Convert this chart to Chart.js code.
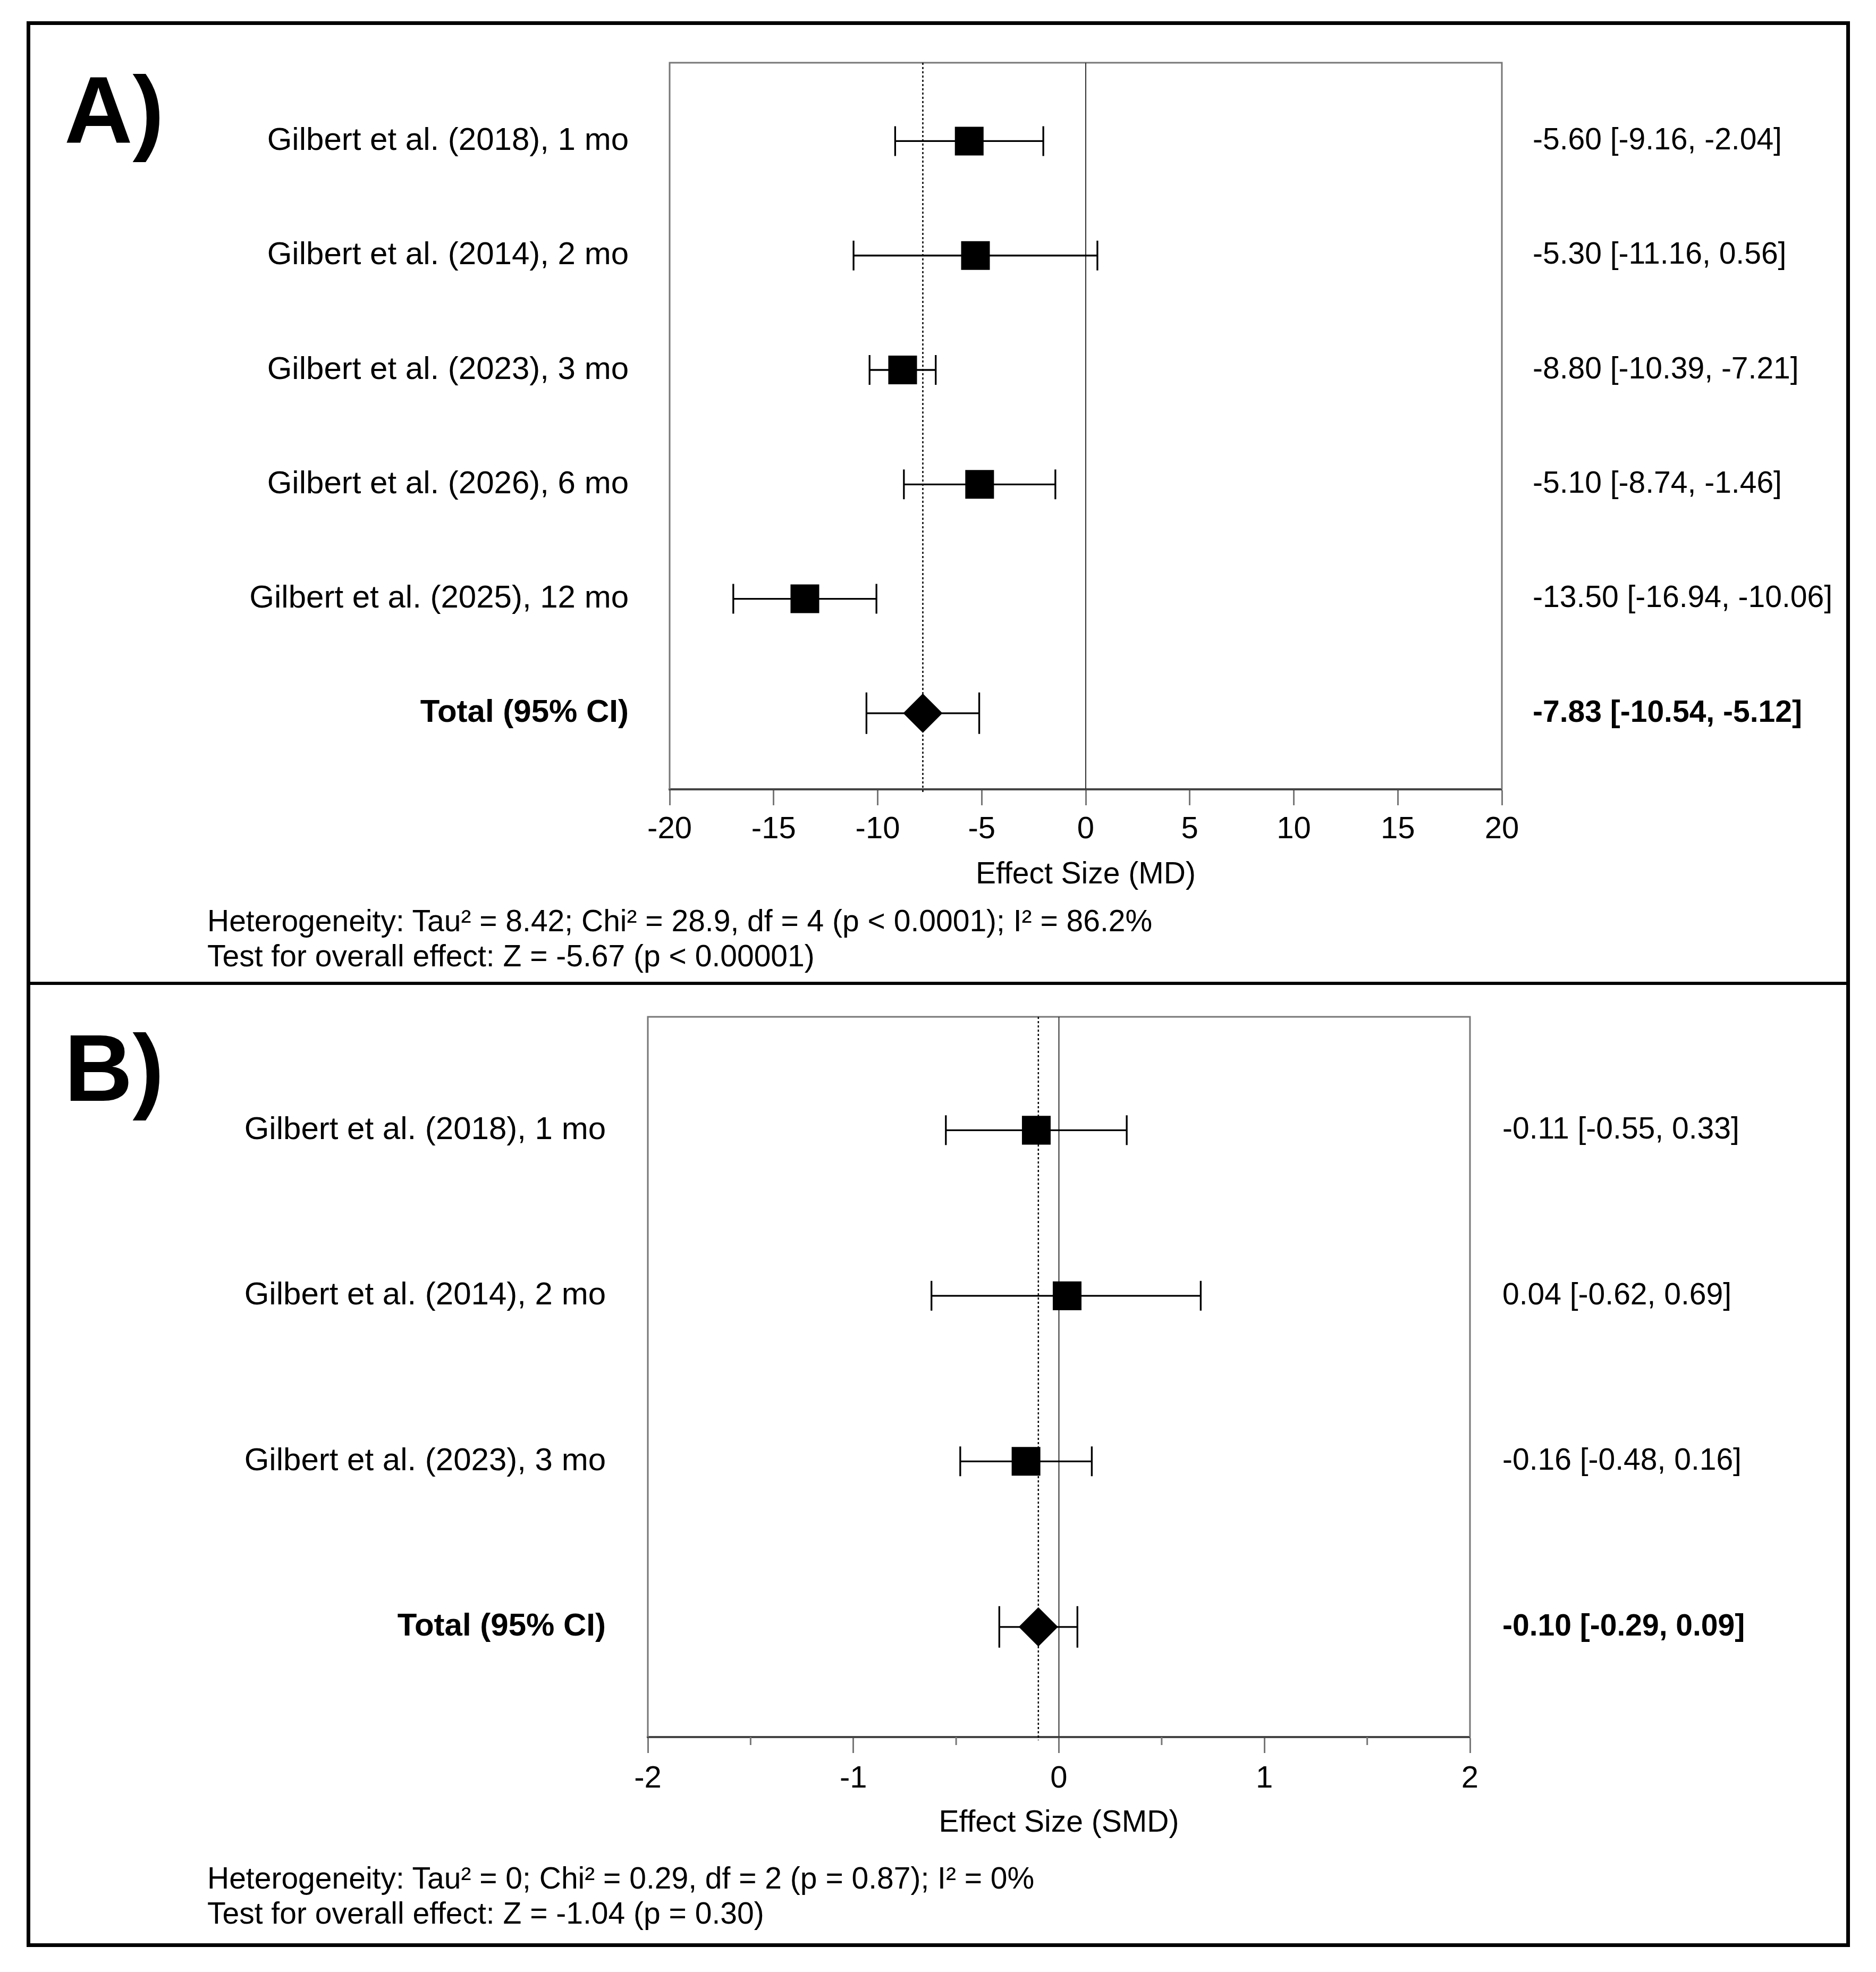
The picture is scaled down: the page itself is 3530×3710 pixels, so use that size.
<!DOCTYPE html>
<html lang="en">
<head>
<meta charset="UTF-8" />
<title>Forest plots</title>
<script src="https://cdn.jsdelivr.net/npm/chart.js@4.4.1/dist/chart.umd.min.js"></script>
<style>
  body { margin: 0; width: 3530px; height: 3710px; background: #fff; position: relative; overflow: hidden;
         font-family: "Liberation Sans", Arial, sans-serif; color: #000; }
  canvas { position: absolute; left: 0; }
  #chartA { top: 0; }
  #chartB { top: 1848px; }
  .frame { position: absolute; left: 50px; top: 40px; width: 3431px; height: 3623px; border: 7px solid #000; box-sizing: border-box; }
  .divider { position: absolute; left: 50px; top: 1847px; width: 3431px; height: 6px; background: #000; }
  .panel-tag { position: absolute; left: 121px; font-weight: bold; font-size: 178px; line-height: 178px; }
  .stats { position: absolute; left: 390px; font-size: 57px; line-height: 66px; white-space: nowrap; }
</style>
</head>
<body>
  <canvas id="chartA" width="3530" height="1848"></canvas>
  <canvas id="chartB" width="3530" height="1862"></canvas>
  <div class="frame"></div>
  <div class="divider"></div>
  <div class="panel-tag" style="top:118px">A)</div>
  <div class="panel-tag" style="top:1921px">B)</div>
  <div class="stats" id="statsA" style="top:1699px"></div>
  <div class="stats" id="statsB" style="top:3500px"></div>

<script>
// ---- panel A : mean difference ----
const studiesA = ['Gilbert et al. (2018), 1 mo', 'Gilbert et al. (2014), 2 mo', 'Gilbert et al. (2023), 3 mo',
                  'Gilbert et al. (2026), 6 mo', 'Gilbert et al. (2025), 12 mo', 'Total (95% CI)'];
const meanA = [-5.60, -5.30, -8.80, -5.10, -13.50, -7.83];
const lowA  = [-9.16, -11.16, -10.39, -8.74, -16.94, -10.54];
const highA = [-2.04, 0.56, -7.21, -1.46, -10.06, -5.12];
const ticksA = [-20, -15, -10, -5, 0, 5, 10, 15, 20];
const statsA = ['Heterogeneity: Tau\u00b2 = 8.42; Chi\u00b2 = 28.9, df = 4 (p < 0.0001); I\u00b2 = 86.2%',
                'Test for overall effect: Z = -5.67 (p < 0.00001)'];

// ---- panel B : standardised mean difference ----
const studiesB = ['Gilbert et al. (2018), 1 mo', 'Gilbert et al. (2014), 2 mo', 'Gilbert et al. (2023), 3 mo',
                  'Total (95% CI)'];
const meanB = [-0.11, 0.04, -0.16, -0.10];
const lowB  = [-0.55, -0.62, -0.48, -0.29];
const highB = [0.33, 0.69, 0.16, 0.09];
const ticksB = [-2, -1, 0, 1, 2];
const minorTicksB = [-1.5, -0.5, 0.5, 1.5];
const statsB = ['Heterogeneity: Tau\u00b2 = 0; Chi\u00b2 = 0.29, df = 2 (p = 0.87); I\u00b2 = 0%',
                'Test for overall effect: Z = -1.04 (p = 0.30)'];

Chart.defaults.font.family = '"Liberation Sans", Arial, sans-serif';
Chart.defaults.color = '#000';

function ciText(m, l, h) {
  return `${m.toFixed(2)} [${l.toFixed(2)}, ${h.toFixed(2)}]`;
}

function makeForest(id, s) {
  const n = s.labels.length;
  const last = n - 1;
  const rightLabels = s.means.map((m, i) => ciText(m, s.low[i], s.high[i]));
  const rowTicks = axis => { axis.ticks = s.labels.map((_, i) => ({ value: i })); };

  const forest = {
    id: 'forest',
    beforeDatasetsDraw(chart) {
      const { ctx, chartArea: a, scales: { x, y } } = chart;
      ctx.save();
      // plot frame (bottom edge is the x axis border)
      ctx.strokeStyle = '#777';
      ctx.lineWidth = 3;
      ctx.beginPath();
      ctx.moveTo(a.left, a.bottom);
      ctx.lineTo(a.left, a.top);
      ctx.lineTo(a.right, a.top);
      ctx.lineTo(a.right, a.bottom);
      ctx.stroke();

      // minor ticks
      (s.minor || []).forEach(v => {
        const px = x.getPixelForValue(v);
        ctx.beginPath();
        ctx.moveTo(px, a.bottom);
        ctx.lineTo(px, a.bottom + 15);
        ctx.stroke();
      });

      // line of no effect
      const x0 = x.getPixelForValue(0);
      ctx.strokeStyle = '#333';
      ctx.lineWidth = 2;
      ctx.beginPath();
      ctx.moveTo(x0, a.top);
      ctx.lineTo(x0, a.bottom);
      ctx.stroke();

      // pooled estimate, dotted
      const xp = x.getPixelForValue(s.means[last]);
      ctx.strokeStyle = '#000';
      ctx.lineWidth = 2.5;
      ctx.setLineDash([4, 4]);
      ctx.beginPath();
      ctx.moveTo(xp, a.top);
      ctx.lineTo(xp, a.bottom + 6);
      ctx.stroke();
      ctx.setLineDash([]);

      // confidence intervals
      ctx.lineWidth = 3.3;
      s.low.forEach((lo, i) => {
        const py = y.getPixelForValue(i);
        const x1 = x.getPixelForValue(lo);
        const x2 = x.getPixelForValue(s.high[i]);
        const cap = i === last ? 39 : 28;
        ctx.beginPath();
        ctx.moveTo(x1, py);
        ctx.lineTo(x2, py);
        ctx.moveTo(x1, py - cap);
        ctx.lineTo(x1, py + cap);
        ctx.moveTo(x2, py - cap);
        ctx.lineTo(x2, py + cap);
        ctx.stroke();
      });
      ctx.restore();
    }
  };

  return new Chart(document.getElementById(id), {
    type: 'scatter',
    data: {
      datasets: [{
        data: s.means.map((m, i) => ({ x: m, y: i })),
        pointStyle: s.means.map((_, i) => i === last ? 'rectRot' : 'rect'),
        pointRadius: s.means.map((_, i) => i === last ? 37 : 38.2),
        backgroundColor: '#000',
        borderWidth: 0
      }]
    },
    options: {
      responsive: false,
      devicePixelRatio: 1,
      animation: false,
      events: [],
      layout: { padding: { top: s.padTop, bottom: s.padBottom, left: 0, right: 0 } },
      plugins: { legend: { display: false }, tooltip: { enabled: false } },
      scales: {
        x: {
          type: 'linear',
          min: s.xTicks[0],
          max: s.xTicks[s.xTicks.length - 1],
          afterBuildTicks: axis => { axis.ticks = s.xTicks.map(v => ({ value: v })); },
          afterFit: axis => { axis.height = s.xHeight; },
          ticks: { font: { size: 58 }, padding: s.xTickPad, maxRotation: 0, autoSkip: false },
          grid: { drawOnChartArea: false, drawTicks: true, tickLength: 30, tickColor: '#777', tickWidth: 3 },
          border: { display: true, color: '#444', width: 4 },
          title: { display: true, text: s.xTitle, font: { size: 57 }, padding: 0 }
        },
        y: {
          type: 'linear',
          position: 'left',
          reverse: true,
          min: -0.685,
          max: last + 0.665,
          afterBuildTicks: rowTicks,
          afterFit: axis => { axis.width = s.leftWidth; },
          // tickLength is used as the gap between frame and label
          grid: { display: false, drawTicks: true, tickLength: s.leftPad },
          border: { display: false },
          ticks: {
            autoSkip: false,
            padding: 0,
            callback: (v, i) => s.labels[i],
            font: c => ({ size: 60, weight: c.index === last ? 'bold' : 'normal' })
          }
        },
        y2: {
          type: 'linear',
          position: 'right',
          reverse: true,
          min: -0.685,
          max: last + 0.665,
          afterBuildTicks: rowTicks,
          afterFit: axis => { axis.width = s.rightWidth; },
          grid: { display: false, drawTicks: true, tickLength: s.rightPad },
          border: { display: false },
          ticks: {
            autoSkip: false,
            padding: 0,
            callback: (v, i) => rightLabels[i],
            font: c => ({ size: 57, weight: c.index === last ? 'bold' : 'normal' })
          }
        }
      }
    },
    plugins: [forest]
  });
}

makeForest('chartA', {
  labels: studiesA, means: meanA, low: lowA, high: highA, xTicks: ticksA,
  xTitle: 'Effect Size (MD)',
  padTop: 118, padBottom: 168, xHeight: 195, xTickPad: 11,
  leftWidth: 1260, leftPad: 77, rightWidth: 704, rightPad: 58
});

makeForest('chartB', {
  labels: studiesB, means: meanB, low: lowB, high: highB, xTicks: ticksB, minor: minorTicksB,
  xTitle: 'Effect Size (SMD)',
  padTop: 65, padBottom: 246, xHeight: 196, xTickPad: 14,
  leftWidth: 1219, leftPad: 79, rightWidth: 764, rightPad: 61
});

document.getElementById('statsA').innerHTML = statsA.join('<br>');
document.getElementById('statsB').innerHTML = statsB.join('<br>');
</script>
</body>
</html>
